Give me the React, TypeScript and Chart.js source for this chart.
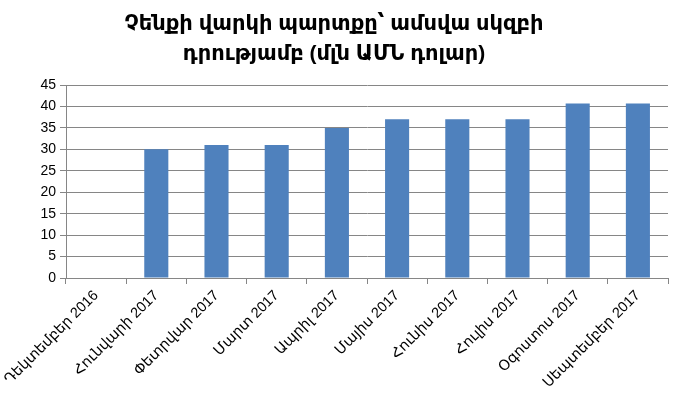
import React, { useEffect, useRef } from "react";
import { Chart, registerables } from "chart.js";

Chart.register(...registerables);

const titleLines = ["Չենքի վարկի պարտքը՝ ամսվա սկզբի", "դրությամբ (մլն ԱՄՆ դոլար)"];
const categories = [
  "Դեկտեմբեր 2016",
  "Հունվարի 2017",
  "Փետրվար 2017",
  "Մարտ 2017",
  "Ապրիլ 2017",
  "Մայիս 2017",
  "Հունիս 2017",
  "Հուլիս 2017",
  "Օգոստոս 2017",
  "Սեպտեմբեր 2017",
];
const debtValues = [0, 30, 31, 31, 35, 37, 37, 37, 40.7, 40.7];
const yMin = 0;
const yMax = 45;
const yStep = 5;

const FONT = "'Liberation Sans', 'DejaVu Sans', Arial, sans-serif";

export default function App() {
  const ref = useRef<HTMLCanvasElement | null>(null);
  useEffect(() => {
    document.body.style.margin = "0";
    const canvas = ref.current!;
    const chart = new Chart(canvas, {
      type: "bar",
      data: {
        labels: categories,
        datasets: [
          {
            data: debtValues,
            backgroundColor: "#4f81bd",
            borderWidth: 0,
            categoryPercentage: 1,
            barPercentage: 0.4,
          },
        ],
      },
      options: {
        animation: false,
        responsive: false,
        maintainAspectRatio: false,
        layout: { padding: { left: 0, right: 17, top: 0, bottom: 0 } },
        plugins: {
          legend: { display: false },
          tooltip: { enabled: false },
          title: {
            display: true,
            text: titleLines,
            color: "#000",
            font: { family: FONT, size: 21, weight: "bold", lineHeight: 1.43 },
            padding: { top: 9, bottom: 16 },
          },
        },
        scales: {
          x: {
            offset: true,
            grid: {
              offset: true,
              drawOnChartArea: false,
              drawTicks: true,
              tickLength: 6,
              color: "#868686",
            },
            border: { color: "#868686" },
            ticks: {
              color: "#000",
              font: { family: FONT, size: 14.5 },
              minRotation: 45,
              maxRotation: 45,
              autoSkip: false,
              padding: 3,
            },
            afterFit: (scale: any) => {
              scale.height = 122;
            },
          },
          y: {
            min: yMin,
            max: yMax,
            grid: { color: "#868686", tickLength: 6 },
            border: { color: "#868686" },
            ticks: {
              stepSize: yStep,
              color: "#000",
              font: { family: FONT, size: 14 },
              padding: 4,
            },
            afterFit: (scale: any) => {
              scale.width = 66;
            },
          },
        },
      },
    });
    return () => chart.destroy();
  }, []);
  return <canvas ref={ref} width={685} height={400} style={{ display: "block" }} />;
}
